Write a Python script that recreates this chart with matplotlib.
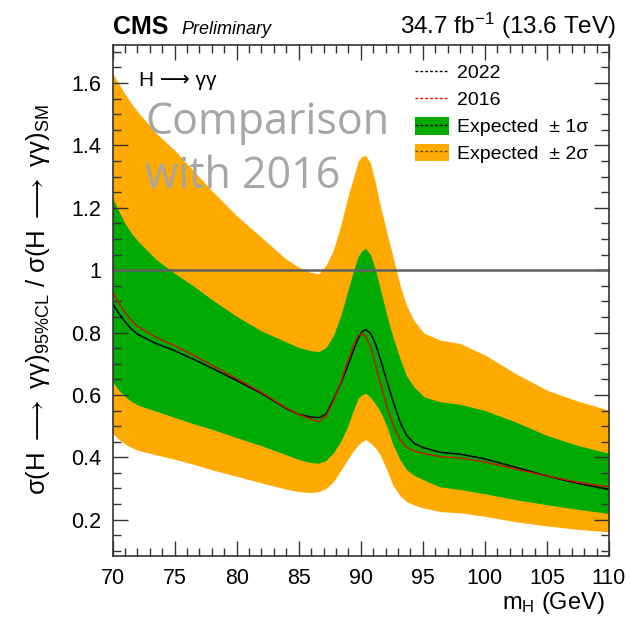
import numpy as np
import matplotlib
matplotlib.use("Agg")
import matplotlib.pyplot as plt
from matplotlib.lines import Line2D
from matplotlib.patches import Patch
from matplotlib.legend_handler import HandlerTuple
from matplotlib.ticker import MultipleLocator, FuncFormatter

plt.rcParams["font.family"] = ["Liberation Sans", "DejaVu Sans"]
plt.rcParams["mathtext.fontset"] = "custom"
plt.rcParams["mathtext.rm"] = "Liberation Sans"
plt.rcParams["mathtext.it"] = "Liberation Sans:italic"
plt.rcParams["mathtext.bf"] = "Liberation Sans:bold"
plt.rcParams["mathtext.fallback"] = "stixsans"

# Higgs mass hypotheses (GeV)
mass = [70, 70.5, 71, 71.5, 72, 73.5, 75, 76.5, 78, 80, 82, 84, 85, 86, 86.6,
        87.2, 87.8, 88.4, 88.9, 89.4, 89.8, 90.1, 90.4, 90.8, 91.2, 91.6, 92.1,
        92.6, 93.2, 93.7, 94.3, 95.1, 96.4, 98, 100, 102.5, 105, 107.5, 110]

# Expected 95% CL limits, 2022 data
exp_2022 = [0.894, 0.862, 0.835, 0.812, 0.795, 0.765, 0.742, 0.715, 0.686, 0.646,
            0.605, 0.556, 0.538, 0.529, 0.527, 0.538, 0.585, 0.637, 0.688, 0.742,
            0.782, 0.803, 0.81, 0.797, 0.763, 0.713, 0.645, 0.58, 0.51, 0.47,
            0.445, 0.43, 0.416, 0.41, 0.395, 0.368, 0.34, 0.316, 0.297]

# Expected 95% CL limits, 2016 data
exp_2016 = [0.931, 0.895, 0.865, 0.84, 0.82, 0.785, 0.758, 0.728, 0.696, 0.652,
            0.608, 0.558, 0.538, 0.522, 0.514, 0.532, 0.58, 0.64, 0.70, 0.755,
            0.79, 0.797, 0.788, 0.755, 0.695, 0.635, 0.565, 0.505, 0.455, 0.432,
            0.42, 0.412, 0.402, 0.398, 0.385, 0.362, 0.34, 0.32, 0.305]

# +/- 1 sigma band
band1_lo = [0.642, 0.615, 0.595, 0.58, 0.568, 0.548, 0.528, 0.508, 0.49, 0.463,
            0.437, 0.408, 0.393, 0.383, 0.381, 0.39, 0.415, 0.452, 0.495, 0.55,
            0.59, 0.60, 0.605, 0.592, 0.57, 0.545, 0.50, 0.44, 0.39, 0.36,
            0.342, 0.327, 0.305, 0.297, 0.283, 0.264, 0.248, 0.233, 0.22]
band1_hi = [1.231, 1.19, 1.15, 1.12, 1.095, 1.035, 0.99, 0.95, 0.906, 0.852,
            0.805, 0.77, 0.752, 0.742, 0.739, 0.752, 0.79, 0.855, 0.926, 0.996,
            1.045, 1.063, 1.07, 1.048, 0.999, 0.936, 0.855, 0.785, 0.712, 0.66,
            0.625, 0.594, 0.578, 0.57, 0.55, 0.513, 0.47, 0.438, 0.413]

# +/- 2 sigma band
band2_lo = [0.477, 0.458, 0.443, 0.432, 0.423, 0.408, 0.394, 0.378, 0.36, 0.339,
            0.318, 0.298, 0.29, 0.287, 0.29, 0.30, 0.322, 0.359, 0.39, 0.42,
            0.44, 0.45, 0.457, 0.445, 0.43, 0.405, 0.36, 0.31, 0.275, 0.258,
            0.247, 0.237, 0.226, 0.222, 0.211, 0.193, 0.18, 0.169, 0.161]
band2_hi = [1.632, 1.598, 1.565, 1.536, 1.509, 1.44, 1.385, 1.32, 1.255, 1.175,
            1.105, 1.035, 1.01, 0.993, 0.988, 1.015, 1.065, 1.145, 1.226, 1.295,
            1.35, 1.365, 1.368, 1.342, 1.277, 1.203, 1.122, 1.043, 0.947, 0.886,
            0.838, 0.798, 0.776, 0.765, 0.728, 0.668, 0.615, 0.58, 0.551]

GREEN = "#00aa00"
ORANGE = "#ffaa00"

fig = plt.figure(figsize=(6.31, 6.19), dpi=100)
ax = fig.add_axes([0.1783, 0.1010, 0.9651 - 0.1783, 0.9273 - 0.1010])

ax.fill_between(mass, band2_lo, band2_hi, color=ORANGE, lw=0)
ax.fill_between(mass, band1_lo, band1_hi, color=GREEN, lw=0)
ax.axhline(1.0, color="#606060", lw=1.8)
ax.plot(mass, exp_2022, color="black", lw=1.1)
ax.plot(mass, exp_2016, color="#cc1100", lw=1.0)

ax.set_xlim(70, 110)
ax.set_ylim(0.082, 1.722)

ax.xaxis.set_major_locator(MultipleLocator(5))
ax.xaxis.set_minor_locator(MultipleLocator(1))
ax.yaxis.set_major_locator(MultipleLocator(0.2))
ax.yaxis.set_minor_locator(MultipleLocator(0.05))
ax.yaxis.set_major_formatter(FuncFormatter(lambda v, p: "%g" % round(v, 2)))
ax.tick_params(which="both", direction="in", top=True, right=True,
               width=1.0, color="#333333", labelsize=15.5)
ax.tick_params(which="major", length=11, pad=8)
ax.tick_params(which="minor", length=5.5)
for s in ax.spines.values():
    s.set_linewidth(1.2)
    s.set_color("#333333")

# axis titles
fig.text(605 / 631, 1 - 609.5 / 619, r"m$_{\mathrm{H}}$ (GeV)", ha="right",
         va="baseline", fontsize=17)
fig.text(38 / 631, 1 - 300 / 619,
         r"σ(H $\longrightarrow$ γγ)$_{\mathrm{95\%CL}}$ / σ(H $\longrightarrow$ γγ)$_{\mathrm{SM}}$",
         rotation=90, ha="center", va="center", fontsize=18.5)

# header
fig.text(113 / 631, 1 - 34 / 619, "CMS", fontsize=18, fontweight="bold",
         ha="left", va="baseline")
fig.text(181 / 631, 1 - 34 / 619, "Preliminary", fontsize=13, style="italic",
         ha="left", va="baseline")
fig.text(616 / 631, 1 - 34 / 619, r"34.7 fb$^{\mathrm{-1}}$ (13.6 TeV)",
         fontsize=17.5, ha="right", va="baseline")

# channel label
fig.text(139 / 631, 1 - 86 / 619, "H ⟶ γγ", fontsize=15, ha="left", va="baseline")

# annotation
fig.text(145 / 631, 1 - 134 / 619, "Comparison", fontsize=31, color="#a6a6a6",
         family="Open Sans", ha="left", va="baseline")
fig.text(145 / 631, 1 - 188 / 619, "with 2016", fontsize=31, color="#a6a6a6",
         family="Open Sans", ha="left", va="baseline")

# legend
h_2022 = Line2D([], [], color="black", ls=(0, (2, 1.5)), lw=1.0)
h_2016 = Line2D([], [], color="red", ls=(0, (2, 1.5)), lw=1.0)
h_1s = (Patch(fc=GREEN, ec="none"), Line2D([], [], color="black", ls=(0, (2, 1.5)), lw=1.0))
h_2s = (Patch(fc=ORANGE, ec="none"), Line2D([], [], color="#6b4a00", ls=(0, (2, 1.5)), lw=1.0))
leg = ax.legend([h_2022, h_2016, h_1s, h_2s],
                ["2022", "2016", "Expected  ± 1σ", "Expected  ± 2σ"],
                handler_map={tuple: HandlerTuple(ndivide=1, pad=0)},
                loc="upper left", bbox_to_anchor=(0.61, 0.965), frameon=False,
                fontsize=14, handlelength=1.75, handleheight=1.03,
                handletextpad=0.4, labelspacing=0.38, borderaxespad=0,
                borderpad=0)

fig.savefig("out.png", dpi=100)
